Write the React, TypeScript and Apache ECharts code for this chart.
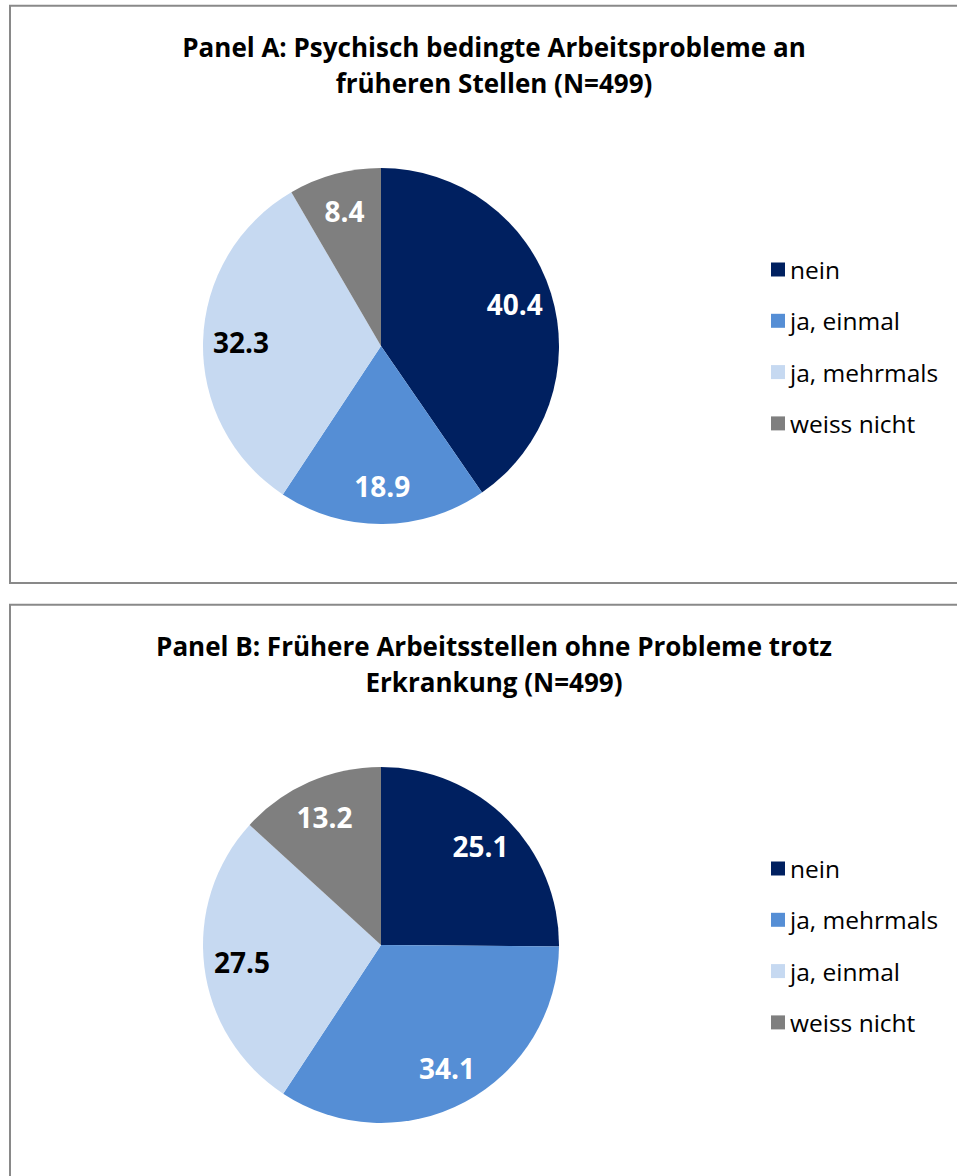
import React, { useEffect, useRef } from "react";
import * as echarts from "echarts";

const titleA = "Panel A: Psychisch bedingte Arbeitsprobleme an\nfrüheren Stellen (N=499)";
const categoriesA = ["nein", "ja, einmal", "ja, mehrmals", "weiss nicht"];
const valuesA = [40.4, 18.9, 32.3, 8.4];

const titleB = "Panel B: Frühere Arbeitsstellen ohne Probleme trotz\nErkrankung (N=499)";
const categoriesB = ["nein", "ja, mehrmals", "ja, einmal", "weiss nicht"];
const valuesB = [25.1, 34.1, 27.5, 13.2];

const sliceColors = ["#002060", "#558ED5", "#C6D9F1", "#7F7F7F"];
const labelColors = ["#FFFFFF", "#FFFFFF", "#000000", "#FFFFFF"];

const FONT = "'Open Sans', 'Noto Sans', sans-serif";

function Panel(props: { title: string; categories: string[]; values: number[]; top: number; height: number }) {
  const ref = useRef<HTMLDivElement | null>(null);
  useEffect(() => {
    if (!ref.current) return;
    const chart = echarts.init(ref.current, undefined, { renderer: "svg" });
    const pieData = props.categories.map((name, i) => ({
      name,
      value: props.values[i],
      itemStyle: { color: sliceColors[i] },
    }));
    const labelData = props.categories.map((name, i) => ({
      name,
      value: props.values[i],
      itemStyle: { color: "rgba(0,0,0,0)" },
      label: { color: labelColors[i] },
    }));
    chart.setOption({
      animation: false,
      backgroundColor: "#FFFFFF",
      title: {
        text: props.title,
        left: 489,
        top: 24,
        textAlign: "center",
        textStyle: {
          fontFamily: FONT,
          fontSize: 26,
          fontWeight: "bold",
          color: "#000000",
          lineHeight: 36,
        },
      },
      legend: {
        orient: "vertical",
        left: 766,
        top: 252,
        itemWidth: 14,
        itemHeight: 14,
        itemGap: 26.3,
        icon: "rect",
        selectedMode: false,
        data: props.categories,
        textStyle: {
          fontFamily: FONT,
          fontSize: 24.5,
          lineHeight: 24,
          color: "#000000",
        },
      },
      graphic: [
        {
          type: "rect",
          shape: { x: 10, y: 5.7, width: 960, height: 577.3 },
          style: { fill: "none", stroke: "#898989", lineWidth: 2 },
          silent: true,
        },
      ],
      series: [
        {
          type: "pie",
          center: [381, 346],
          radius: [0, 178],
          startAngle: 90,
          clockwise: true,
          silent: true,
          label: { show: false },
          labelLine: { show: false },
          itemStyle: { borderWidth: 0 },
          data: pieData,
        },
        {
          type: "pie",
          center: [381, 346],
          radius: [96, 178],
          startAngle: 90,
          clockwise: true,
          silent: true,
          avoidLabelOverlap: false,
          labelLine: { show: false },
          label: {
            show: true,
            position: "inside",
            formatter: "{c}",
            fontFamily: FONT,
            fontSize: 28,
            fontWeight: "bold",
          },
          itemStyle: { borderWidth: 0 },
          data: labelData,
        },
      ],
    });
    return () => chart.dispose();
  }, []);
  return (
    <div
      ref={ref}
      style={{ position: "absolute", left: 0, top: props.top, width: 957, height: props.height }}
    />
  );
}

export default function App() {
  return (
    <div style={{ position: "absolute", left: 0, top: 0, width: 957, height: 1176, overflow: "hidden", background: "#FFFFFF" }}>
      <Panel title={titleA} categories={categoriesA} values={valuesA} top={0} height={599} />
      <Panel title={titleB} categories={categoriesB} values={valuesB} top={599} height={577} />
    </div>
  );
}
